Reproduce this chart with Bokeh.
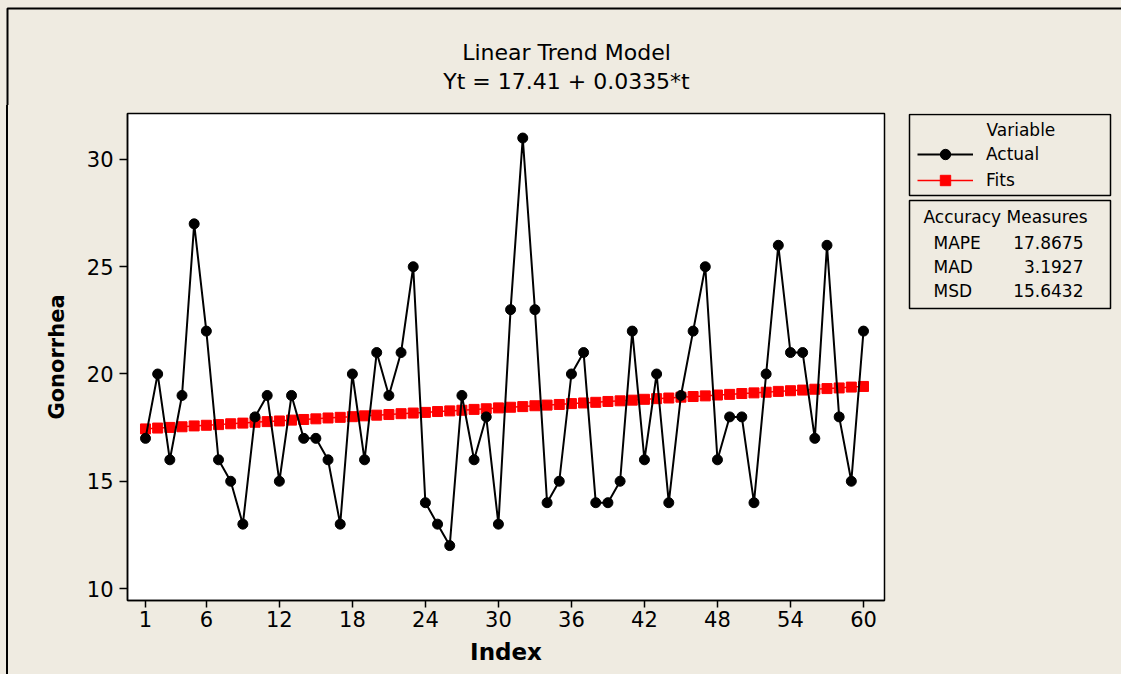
from bokeh.plotting import figure
from bokeh.layouts import column, row
from bokeh.models import (Range1d, FixedTicker, Label, BoxAnnotation, Legend, LegendItem,
                          Spacer)
from bokeh.embed import file_html
from bokeh.resources import INLINE

index = list(range(1, 61))
actual = [17, 20, 16, 19, 27, 22, 16, 15, 13, 18,
          19, 15, 19, 17, 17, 16, 13, 20, 16, 21,
          19, 21, 25, 14, 13, 12, 19, 16, 18, 13,
          23, 31, 23, 14, 15, 20, 21, 14, 14, 15,
          22, 16, 20, 14, 19, 22, 25, 16, 18, 18,
          14, 20, 26, 21, 21, 17, 26, 18, 15, 22]
fits = [17.44, 17.48, 17.51, 17.54, 17.58, 17.61, 17.64, 17.68, 17.71, 17.75,
        17.78, 17.81, 17.85, 17.88, 17.91, 17.95, 17.98, 18.01, 18.05, 18.08,
        18.11, 18.15, 18.18, 18.21, 18.25, 18.28, 18.31, 18.35, 18.38, 18.42,
        18.45, 18.48, 18.52, 18.55, 18.58, 18.62, 18.65, 18.68, 18.72, 18.75,
        18.78, 18.82, 18.85, 18.88, 18.92, 18.95, 18.98, 19.02, 19.05, 19.09,
        19.12, 19.15, 19.19, 19.22, 19.25, 19.29, 19.32, 19.35, 19.39, 19.42]
x_ticks = [1, 6, 12, 18, 24, 30, 36, 42, 48, 54, 60]
y_ticks = [10, 15, 20, 25, 30]
title_lines = ["Linear Trend Model", "Yt = 17.41 + 0.0335*t"]
legend_title = "Variable"
series_names = ["Actual", "Fits"]
measures_title = "Accuracy Measures"
measure_names = ["MAPE", "MAD", "MSD"]
measure_values = ["17.8675", "3.1927", "15.6432"]

BG = "#efebe1"
FONT = "DejaVu Sans"
W, H = 1121, 674
TOP_H = 105          # title strip height
LEFT_W = 8           # left strip width
SIDE_X = 895         # where the side panel starts
FL, FT, FW, FH = 127, 113, 757, 487
RH = H - TOP_H       # height of the lower row


def lab(f, px, py, text, align="left", size=17):
    # py is the wanted baseline; the renderer sits the text ~0.4em lower
    f.add_layout(Label(x=px, y=py - 0.4 * size, text=text, text_align=align,
                       text_baseline="alphabetic", text_font=FONT,
                       text_font_size=f"{size}px", text_color="black"))


# ---- title strip (page pixel coordinates) ----
top = figure(width=W, height=TOP_H, x_range=Range1d(0, W), y_range=Range1d(TOP_H, 0),
             x_axis_type=None, y_axis_type=None, output_backend="svg",
             toolbar_location=None, min_border=0,
             background_fill_color=BG, border_fill_color=BG)
top.outline_line_color = None
top.grid.visible = False
top.line([7, 7, W], [TOP_H, 8, 8], line_color="black", line_width=2)
lab(top, 566, 61, title_lines[0], "center", 22)
lab(top, 566, 90, title_lines[1], "center", 22)

# ---- left strip: continues the outer frame line ----
left = Spacer(width=LEFT_W, height=RH, margin=0,
              styles={"box-sizing": "border-box", "border-right": "2px solid black",
                      "background-color": BG})

# ---- main chart ----
p = figure(width=SIDE_X - LEFT_W, height=RH,
           frame_width=FW, frame_height=FH,
           min_border_left=FL - LEFT_W, min_border_top=FT - TOP_H,
           min_border_right=SIDE_X - FL - FW,
           min_border_bottom=H - FT - FH,
           x_range=Range1d(-0.479, 61.726), y_range=Range1d(9.441, 32.144),
           output_backend="svg", toolbar_location=None,
           background_fill_color="white", border_fill_color=BG)
p.outline_line_color = "black"
p.outline_line_width = 1.5
p.grid.visible = False

for ax in (p.xaxis, p.yaxis):
    ax.axis_line_color = "black"
    ax.axis_line_width = 1.5
    ax.major_tick_line_color = "black"
    ax.major_tick_line_width = 1.5
    ax.minor_tick_line_color = None
    ax.major_tick_in = 0
    ax.major_label_text_font = FONT
    ax.major_label_text_font_size = "21px"
    ax.major_label_text_color = "black"
    ax.axis_label_text_font = FONT
    ax.axis_label_text_font_style = "bold"
    ax.axis_label_text_color = "black"

p.xaxis.ticker = FixedTicker(ticks=x_ticks, minor_ticks=[])
p.yaxis.ticker = FixedTicker(ticks=y_ticks, minor_ticks=[])
p.xaxis.major_tick_out = 7
p.yaxis.major_tick_out = 8
p.xaxis.major_label_standoff = 3
p.yaxis.major_label_standoff = 6
p.xaxis.axis_label = "Index"
p.yaxis.axis_label = "Gonorrhea"
p.xaxis.axis_label_text_font_size = "23px"
p.yaxis.axis_label_text_font_size = "21px"
p.xaxis.axis_label_standoff = 9
p.yaxis.axis_label_standoff = 15

p.line(index, fits, line_color="red", line_width=1.5)
p.scatter(index, fits, marker="square", size=10, color="red")
p.line(index, actual, line_color="black", line_width=2)
p.scatter(index, actual, marker="circle", size=10, color="black")

# ---- side panel (frame aligned with the main frame; page pixel coordinates) ----
side = figure(width=W - SIDE_X, height=RH,
              frame_width=W - SIDE_X, frame_height=FH,
              min_border_left=0, min_border_right=0,
              min_border_top=FT - TOP_H, min_border_bottom=H - FT - FH,
              x_range=Range1d(SIDE_X, W), y_range=Range1d(FT + FH, FT),
              x_axis_type=None, y_axis_type=None, output_backend="svg",
              toolbar_location=None,
              background_fill_color=BG, border_fill_color=BG)
side.outline_line_color = None
side.grid.visible = False
# same series, outside this panel's ranges: only used for the legend samples
lf = side.line(index, fits, line_color="red", line_width=1.5)
sf = side.scatter(index, fits, marker="square", size=10, color="red")
la = side.line(index, actual, line_color="black", line_width=2)
sa = side.scatter(index, actual, marker="circle", size=10, color="black")

legend = Legend(items=[LegendItem(label=series_names[0], renderers=[la, sa]),
                       LegendItem(label=series_names[1], renderers=[lf, sf])],
                location=(917 - SIDE_X, FT + FH - 193),
                padding=0, margin=0, spacing=0,
                glyph_width=56, glyph_height=26, label_height=26,
                label_standoff=13,
                label_text_font=FONT, label_text_font_size="17px",
                label_text_color="black",
                border_line_alpha=0, background_fill_alpha=0)
side.add_layout(legend)

for t, b in ((114, 195), (200, 308)):
    side.add_layout(BoxAnnotation(left=909, right=1110, top=t, bottom=b,
                                  fill_alpha=0, line_color="black", line_width=1.5,
                                  line_alpha=1))

lab(side, 986, 136, legend_title)
lab(side, 923, 223, measures_title)
for i, (n, v) in enumerate(zip(measure_names, measure_values)):
    yb = 249 + i * 24
    lab(side, 933, yb, n)
    lab(side, 1083, yb, v, "right")

layout = column(top, row(left, p, side, styles={"background-color": BG}),
                styles={"background-color": BG})
open("out.html", "w").write(file_html(layout, INLINE))
